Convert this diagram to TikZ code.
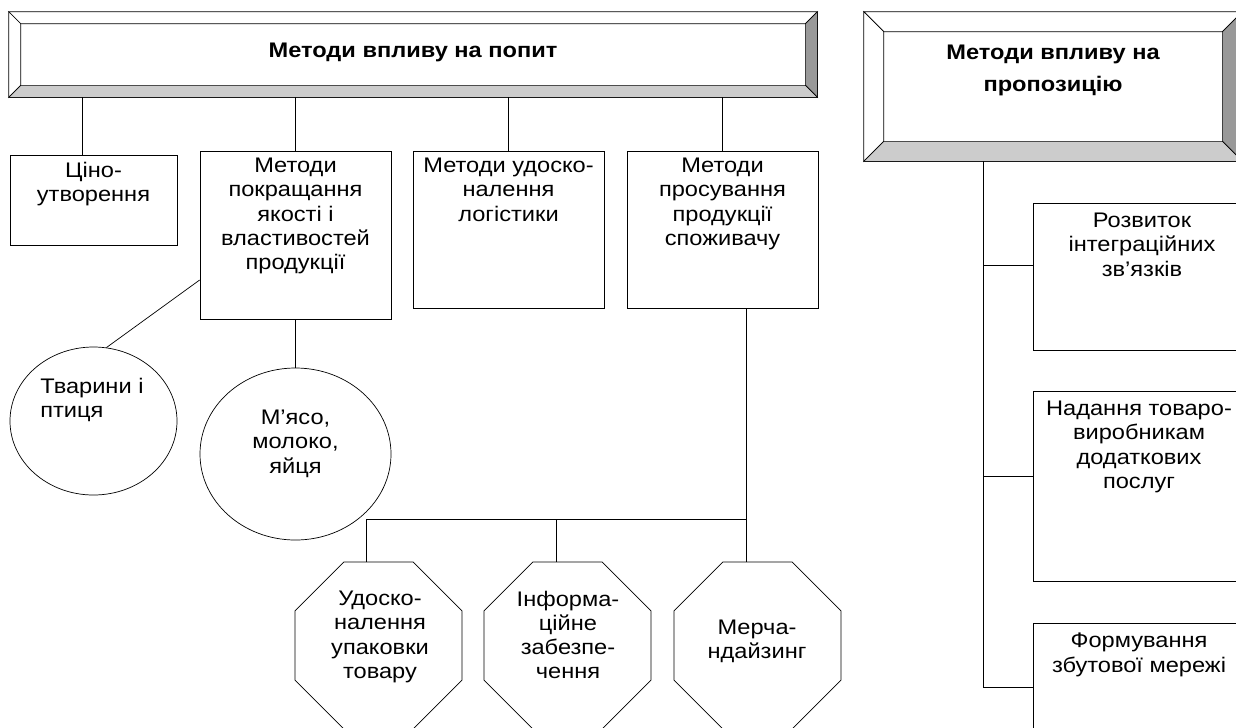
\documentclass[tikz,border=0pt]{standalone}
\usepackage{fontspec}
\setmainfont{Liberation Sans}[FakeStretch=1.12]
\usetikzlibrary{shapes.geometric}
\tikzset{line width=1.0pt}
\definecolor{bevside}{gray}{0.6}
\definecolor{bevbottom}{gray}{0.8}
\tikzset{
  box/.style={draw, rectangle, inner sep=0pt},
  oval/.style={draw, ellipse, inner sep=0pt},
  octo/.style={draw, regular polygon, regular polygon sides=8, inner sep=0pt, minimum size=180.8*\px},
  txt/.style={align=center, inner sep=0pt, font=\fontsize{12}{13.7}\selectfont},
  head/.style={align=center, inner sep=0pt, font=\fontsize{12}{18.2}\selectfont\bfseries},
}
\def\px{0.02cm}

\begin{document}
\begin{tikzpicture}[x=\px, y=-\px]
  \clip (0,0) rectangle (1236,727);

  \def\bevelframe#1#2{%
    \filldraw[fill=white] (#1.north west) -- (#1.north east) -- ([shift={(-#2,#2)}]#1.north east) -- ([shift={(#2,#2)}]#1.north west) -- cycle;
    \filldraw[fill=white] (#1.north west) -- ([shift={(#2,#2)}]#1.north west) -- ([shift={(#2,-#2)}]#1.south west) -- (#1.south west) -- cycle;
    \filldraw[fill=bevside] (#1.north east) -- (#1.south east) -- ([shift={(-#2,-#2)}]#1.south east) -- ([shift={(-#2,#2)}]#1.north east) -- cycle;
    \filldraw[fill=bevbottom] (#1.south west) -- (#1.south east) -- ([shift={(-#2,-#2)}]#1.south east) -- ([shift={(#2,-#2)}]#1.south west) -- cycle;
  }

  % demand
  \node[box, minimum width=808*\px, minimum height=85*\px] (demand) at (413,54.5) {};
  \bevelframe{demand}{12}
  \node[head] (demandtxt) at (413,52) {Методи впливу на попит};

  \node[box, minimum width=167*\px, minimum height=90*\px] (price) at (93.5,200) {};
  \node[txt, anchor=north] (pricetxt) at (93.5,162) {Ціно-\\утворення};

  \node[box, minimum width=191*\px, minimum height=168*\px] (quality) at (295.5,235) {};
  \node[txt, anchor=north] (qualitytxt) at (295.5,158) {Методи\\покращання\\якості і\\властивостей\\продукції};

  \node[box, minimum width=191*\px, minimum height=157*\px] (logist) at (508.5,229.5) {};
  \node[txt, anchor=north] (logisttxt) at (508.5,158) {Методи удоско-\\налення\\логістики};

  \node[box, minimum width=191*\px, minimum height=157*\px] (promo) at (722.5,229.5) {};
  \node[txt, anchor=north] (promotxt) at (722.5,158) {Методи\\просування\\продукції\\споживачу};

  % products
  \node[oval, minimum width=167*\px, minimum height=148*\px] (animals) at (93.5,421) {};
  \node[txt, align=left, anchor=north west] (animalstxt) at (40,378) {Тварини і\\птиця};
  \node[oval, minimum width=191*\px, minimum height=172*\px] (meat) at (295.5,454) {};
  \node[txt, anchor=north] (meattxt) at (295.5,410) {М’ясо,\\молоко,\\яйця};

  % promotion tools
  \node[octo] (pack) at (378.5,645.5) {};
  \node[txt, anchor=north] (packtxt) at (380,591) {Удоско-\\налення\\упаковки\\товару};
  \node[octo] (info) at (567.5,645.5) {};
  \node[txt, anchor=north] (infotxt) at (568,591) {Інформа-\\ційне\\забезпе-\\чення};
  \node[octo] (merch) at (757.5,645.5) {};
  \node[txt, anchor=north] (merchtxt) at (757,620) {Мерча-\\ндайзинг};

  \coordinate (pricetop) at ([xshift=-11.5*\px]price.north);
  \draw (demand.south -| pricetop) -- (pricetop);
  \draw (demand.south -| quality.north) -- (quality.north);
  \draw (demand.south -| logist.north) -- (logist.north);
  \draw (demand.south -| promo.north) -- (promo.north);

  \draw ([yshift=-45*\px]quality.west) -- (animals.80);
  \draw (quality.south) -- (meat.north);

  \coordinate (bus1) at (366,519);
  \coordinate (bus2) at (556,519);
  \coordinate (bus3) at (746,519);
  \draw (promo.south -| bus3) -- (bus3);
  \draw (bus1) -- (bus3);
  \draw (bus1) -- (bus1 |- pack.north);
  \draw (bus2) -- (bus2 |- info.north);
  \draw (bus3) -- (bus3 |- merch.north);

  % supply
  \node[box, minimum width=378*\px, minimum height=149*\px] (supply) at (1053,86.5) {};
  \bevelframe{supply}{20}
  \node[head, anchor=north] (supplytxt) at (1053,45) {Методи впливу на\\пропозицію};

  \node[box, minimum width=224*\px, minimum height=147*\px] (integ) at (1145,276.5) {};
  \node[txt, anchor=north] (integtxt) at (1142,213) {Розвиток\\інтеграційних\\зв’язків};
  \node[box, minimum width=224*\px, minimum height=190*\px] (serv) at (1145,486) {};
  \node[txt, anchor=north] (servtxt) at (1139,401) {Надання товаро-\\виробникам\\додаткових\\послуг};
  \node[box, minimum width=224*\px, minimum height=150*\px] (net) at (1145,698) {};
  \node[txt, anchor=north] (nettxt) at (1139,633) {Формування\\збутової мережі};

  \coordinate (j1) at (983,265);
  \coordinate (j2) at (983,476);
  \coordinate (j3) at (983,687);
  \draw (supply.south -| j3) -- (j3);
  \draw (j1) -- (j1 -| integ.west);
  \draw (j2) -- (j2 -| serv.west);
  \draw (j3) -- (j3 -| net.west);
\end{tikzpicture}
\end{document}
